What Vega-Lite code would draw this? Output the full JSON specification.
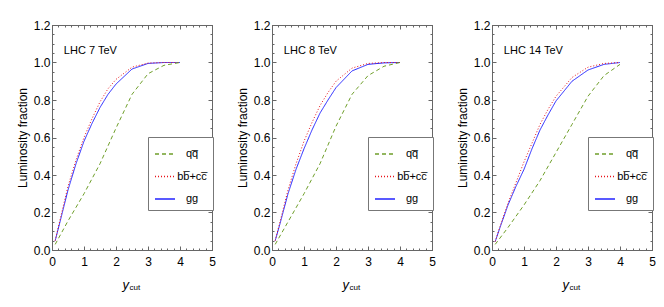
{
  "$schema": "https://vega.github.io/schema/vega-lite/v6.json",
  "padding": {"left": 15, "top": 18, "right": 5, "bottom": 5},
  "background": "white",
  "config": {
    "axis": {"domain": false, "grid": false, "tickColor": "#666", "labelFont": "Liberation Sans", "labelFontSize": 12, "labelColor": "#000", "titleFont": "Liberation Sans", "titleFontSize": 12, "titleFontWeight": "normal", "titleColor": "#000", "labelFlush": false, "labelOverlap": false},
    "view": {"stroke": "#666", "strokeWidth": 1},
    "legend": {"orient": "none", "legendX": 96, "legendY": 112, "title": null, "strokeColor": "#777", "fillColor": "white", "padding": 6, "symbolType": "stroke", "symbolSize": 400, "symbolStrokeWidth": 1.5, "labelFont": "Liberation Sans", "labelFontSize": 11, "labelColor": "#000", "labelAlign": "center", "labelOffset": 16, "rowPadding": 6.5}
  },
  "datasets": {
    "curves": [
      {"e": 7, "ch": "gg", "x": 0.1, "y": 0.05}, {"e": 7, "ch": "gg", "x": 0.25, "y": 0.15}, {"e": 7, "ch": "gg", "x": 0.5, "y": 0.32}, {"e": 7, "ch": "gg", "x": 0.75, "y": 0.46}, {"e": 7, "ch": "gg", "x": 1, "y": 0.58}, {"e": 7, "ch": "gg", "x": 1.25, "y": 0.675}, {"e": 7, "ch": "gg", "x": 1.5, "y": 0.76}, {"e": 7, "ch": "gg", "x": 1.75, "y": 0.83}, {"e": 7, "ch": "gg", "x": 2, "y": 0.885}, {"e": 7, "ch": "gg", "x": 2.5, "y": 0.965}, {"e": 7, "ch": "gg", "x": 3, "y": 0.995}, {"e": 7, "ch": "gg", "x": 3.5, "y": 1}, {"e": 7, "ch": "gg", "x": 4, "y": 1},
      {"e": 7, "ch": "bb\u0305+cc\u0305", "x": 0.1, "y": 0.05}, {"e": 7, "ch": "bb\u0305+cc\u0305", "x": 0.25, "y": 0.16}, {"e": 7, "ch": "bb\u0305+cc\u0305", "x": 0.5, "y": 0.34}, {"e": 7, "ch": "bb\u0305+cc\u0305", "x": 0.75, "y": 0.48}, {"e": 7, "ch": "bb\u0305+cc\u0305", "x": 1, "y": 0.6}, {"e": 7, "ch": "bb\u0305+cc\u0305", "x": 1.25, "y": 0.7}, {"e": 7, "ch": "bb\u0305+cc\u0305", "x": 1.5, "y": 0.79}, {"e": 7, "ch": "bb\u0305+cc\u0305", "x": 1.75, "y": 0.86}, {"e": 7, "ch": "bb\u0305+cc\u0305", "x": 2, "y": 0.91}, {"e": 7, "ch": "bb\u0305+cc\u0305", "x": 2.5, "y": 0.975}, {"e": 7, "ch": "bb\u0305+cc\u0305", "x": 3, "y": 0.997}, {"e": 7, "ch": "bb\u0305+cc\u0305", "x": 3.5, "y": 1}, {"e": 7, "ch": "bb\u0305+cc\u0305", "x": 4, "y": 1},
      {"e": 7, "ch": "qq\u0305", "x": 0.1, "y": 0.03}, {"e": 7, "ch": "qq\u0305", "x": 0.5, "y": 0.155}, {"e": 7, "ch": "qq\u0305", "x": 1, "y": 0.3}, {"e": 7, "ch": "qq\u0305", "x": 1.5, "y": 0.46}, {"e": 7, "ch": "qq\u0305", "x": 2, "y": 0.65}, {"e": 7, "ch": "qq\u0305", "x": 2.5, "y": 0.83}, {"e": 7, "ch": "qq\u0305", "x": 3, "y": 0.94}, {"e": 7, "ch": "qq\u0305", "x": 3.5, "y": 0.985}, {"e": 7, "ch": "qq\u0305", "x": 4, "y": 1},
      {"e": 8, "ch": "gg", "x": 0.1, "y": 0.05}, {"e": 8, "ch": "gg", "x": 0.25, "y": 0.14}, {"e": 8, "ch": "gg", "x": 0.5, "y": 0.3}, {"e": 8, "ch": "gg", "x": 0.75, "y": 0.43}, {"e": 8, "ch": "gg", "x": 1, "y": 0.54}, {"e": 8, "ch": "gg", "x": 1.25, "y": 0.64}, {"e": 8, "ch": "gg", "x": 1.5, "y": 0.73}, {"e": 8, "ch": "gg", "x": 1.75, "y": 0.8}, {"e": 8, "ch": "gg", "x": 2, "y": 0.866}, {"e": 8, "ch": "gg", "x": 2.5, "y": 0.955}, {"e": 8, "ch": "gg", "x": 3, "y": 0.99}, {"e": 8, "ch": "gg", "x": 3.5, "y": 0.998}, {"e": 8, "ch": "gg", "x": 4, "y": 1},
      {"e": 8, "ch": "bb\u0305+cc\u0305", "x": 0.1, "y": 0.05}, {"e": 8, "ch": "bb\u0305+cc\u0305", "x": 0.25, "y": 0.15}, {"e": 8, "ch": "bb\u0305+cc\u0305", "x": 0.5, "y": 0.32}, {"e": 8, "ch": "bb\u0305+cc\u0305", "x": 0.75, "y": 0.46}, {"e": 8, "ch": "bb\u0305+cc\u0305", "x": 1, "y": 0.58}, {"e": 8, "ch": "bb\u0305+cc\u0305", "x": 1.25, "y": 0.68}, {"e": 8, "ch": "bb\u0305+cc\u0305", "x": 1.5, "y": 0.77}, {"e": 8, "ch": "bb\u0305+cc\u0305", "x": 1.75, "y": 0.84}, {"e": 8, "ch": "bb\u0305+cc\u0305", "x": 2, "y": 0.9}, {"e": 8, "ch": "bb\u0305+cc\u0305", "x": 2.5, "y": 0.97}, {"e": 8, "ch": "bb\u0305+cc\u0305", "x": 3, "y": 0.995}, {"e": 8, "ch": "bb\u0305+cc\u0305", "x": 3.5, "y": 1}, {"e": 8, "ch": "bb\u0305+cc\u0305", "x": 4, "y": 1},
      {"e": 8, "ch": "qq\u0305", "x": 0.1, "y": 0.03}, {"e": 8, "ch": "qq\u0305", "x": 0.5, "y": 0.15}, {"e": 8, "ch": "qq\u0305", "x": 1, "y": 0.3}, {"e": 8, "ch": "qq\u0305", "x": 1.5, "y": 0.46}, {"e": 8, "ch": "qq\u0305", "x": 2, "y": 0.66}, {"e": 8, "ch": "qq\u0305", "x": 2.5, "y": 0.83}, {"e": 8, "ch": "qq\u0305", "x": 3, "y": 0.93}, {"e": 8, "ch": "qq\u0305", "x": 3.5, "y": 0.98}, {"e": 8, "ch": "qq\u0305", "x": 4, "y": 1},
      {"e": 14, "ch": "gg", "x": 0.1, "y": 0.045}, {"e": 14, "ch": "gg", "x": 0.25, "y": 0.12}, {"e": 14, "ch": "gg", "x": 0.5, "y": 0.24}, {"e": 14, "ch": "gg", "x": 0.75, "y": 0.34}, {"e": 14, "ch": "gg", "x": 1, "y": 0.43}, {"e": 14, "ch": "gg", "x": 1.25, "y": 0.54}, {"e": 14, "ch": "gg", "x": 1.5, "y": 0.64}, {"e": 14, "ch": "gg", "x": 1.75, "y": 0.72}, {"e": 14, "ch": "gg", "x": 2, "y": 0.795}, {"e": 14, "ch": "gg", "x": 2.5, "y": 0.9}, {"e": 14, "ch": "gg", "x": 3, "y": 0.96}, {"e": 14, "ch": "gg", "x": 3.5, "y": 0.99}, {"e": 14, "ch": "gg", "x": 4, "y": 1},
      {"e": 14, "ch": "bb\u0305+cc\u0305", "x": 0.1, "y": 0.045}, {"e": 14, "ch": "bb\u0305+cc\u0305", "x": 0.25, "y": 0.125}, {"e": 14, "ch": "bb\u0305+cc\u0305", "x": 0.5, "y": 0.25}, {"e": 14, "ch": "bb\u0305+cc\u0305", "x": 0.75, "y": 0.36}, {"e": 14, "ch": "bb\u0305+cc\u0305", "x": 1, "y": 0.47}, {"e": 14, "ch": "bb\u0305+cc\u0305", "x": 1.25, "y": 0.57}, {"e": 14, "ch": "bb\u0305+cc\u0305", "x": 1.5, "y": 0.67}, {"e": 14, "ch": "bb\u0305+cc\u0305", "x": 1.75, "y": 0.75}, {"e": 14, "ch": "bb\u0305+cc\u0305", "x": 2, "y": 0.82}, {"e": 14, "ch": "bb\u0305+cc\u0305", "x": 2.5, "y": 0.92}, {"e": 14, "ch": "bb\u0305+cc\u0305", "x": 3, "y": 0.975}, {"e": 14, "ch": "bb\u0305+cc\u0305", "x": 3.5, "y": 0.995}, {"e": 14, "ch": "bb\u0305+cc\u0305", "x": 4, "y": 1},
      {"e": 14, "ch": "qq\u0305", "x": 0.1, "y": 0.03}, {"e": 14, "ch": "qq\u0305", "x": 0.5, "y": 0.12}, {"e": 14, "ch": "qq\u0305", "x": 1, "y": 0.24}, {"e": 14, "ch": "qq\u0305", "x": 1.5, "y": 0.37}, {"e": 14, "ch": "qq\u0305", "x": 2, "y": 0.52}, {"e": 14, "ch": "qq\u0305", "x": 2.5, "y": 0.67}, {"e": 14, "ch": "qq\u0305", "x": 3, "y": 0.82}, {"e": 14, "ch": "qq\u0305", "x": 3.5, "y": 0.93}, {"e": 14, "ch": "qq\u0305", "x": 4, "y": 0.99}
    ]
  },
  "hconcat": [
    {
      "width": 160, "height": 225,
      "resolve": {"axis": {"x": "independent", "y": "independent"}},
      "layer": [
        {"data": {"name": "curves"}, "transform": [{"filter": "datum.e == 7"}],
         "mark": {"type": "line", "strokeWidth": 1},
         "encoding": {
           "x": {"field": "x", "type": "quantitative", "scale": {"domain": [0, 5], "nice": false, "zero": false},
                 "axis": {"orient": "bottom", "values": [0, 1, 2, 3, 4, 5], "tickSize": -4, "labelPadding": 10, "labelAngle": 0, "title": "y", "titleFontStyle": "italic", "titleFontSize": 13, "titleX": 76.5, "titleY": 38, "titleAlign": "right", "titleBaseline": "alphabetic"}},
           "y": {"field": "y", "type": "quantitative", "scale": {"domain": [0, 1.2], "nice": false, "zero": false},
                 "axis": {"orient": "left", "values": [0, 0.2, 0.4, 0.6, 0.8, 1, 1.2], "format": ".1f", "tickSize": -4, "labelPadding": 6, "title": "Luminosity fraction", "titlePadding": 4}},
           "color": {"field": "ch", "type": "nominal", "scale": {"domain": ["qq\u0305", "bb\u0305+cc\u0305", "gg"], "range": ["#6f9f2a", "#e8141a", "#2323ff"]}, "legend": {}},
           "strokeDash": {"field": "ch", "type": "nominal", "scale": {"domain": ["qq\u0305", "bb\u0305+cc\u0305", "gg"], "range": [[4, 3], [1, 2], [1, 0]]}, "legend": {}}
         }},
        {"data": {"values": [{"x": 0.37, "y": 1.06, "t": "LHC 7 TeV"}]},
         "mark": {"type": "text", "align": "left", "baseline": "middle", "font": "Liberation Sans", "fontSize": 11, "color": "#000"},
         "encoding": {"x": {"field": "x", "type": "quantitative", "axis": null}, "y": {"field": "y", "type": "quantitative", "axis": null}, "text": {"field": "t"}}},
        {"data": {"name": "curves"}, "transform": [{"filter": "datum.e == 7"}],
         "mark": {"type": "point", "opacity": 0},
         "encoding": {
           "x": {"field": "x", "type": "quantitative", "axis": {"orient": "top", "values": [0, 1, 2, 3, 4, 5], "tickSize": -4, "labels": false, "title": "cut", "titleFontSize": 8, "titleX": 77, "titleY": 264, "titleAlign": "left", "titleBaseline": "alphabetic"}},
           "y": {"field": "y", "type": "quantitative", "axis": {"orient": "right", "values": [0, 0.2, 0.4, 0.6, 0.8, 1, 1.2], "tickSize": -4, "labels": false, "title": null}}
         }},
        {"data": {"name": "curves"}, "transform": [{"filter": "datum.e == 7"}],
         "mark": {"type": "point", "opacity": 0},
         "encoding": {
           "x": {"field": "x", "type": "quantitative", "axis": {"orient": "bottom", "values": [0, 0.2, 0.4, 0.6, 0.8, 1, 1.2, 1.4, 1.6, 1.8, 2, 2.2, 2.4, 2.6, 2.8, 3, 3.2, 3.4, 3.6, 3.8, 4, 4.2, 4.4, 4.6, 4.8, 5], "tickSize": -2, "labels": false, "title": null}},
           "y": {"field": "y", "type": "quantitative", "axis": {"orient": "left", "values": [0, 0.05, 0.1, 0.15, 0.2, 0.25, 0.3, 0.35, 0.4, 0.45, 0.5, 0.55, 0.6, 0.65, 0.7, 0.75, 0.8, 0.85, 0.9, 0.95, 1, 1.05, 1.1, 1.15, 1.2], "tickSize": -2, "labels": false, "title": null}}
         }},
        {"data": {"name": "curves"}, "transform": [{"filter": "datum.e == 7"}],
         "mark": {"type": "point", "opacity": 0},
         "encoding": {
           "x": {"field": "x", "type": "quantitative", "axis": {"orient": "top", "values": [0, 0.2, 0.4, 0.6, 0.8, 1, 1.2, 1.4, 1.6, 1.8, 2, 2.2, 2.4, 2.6, 2.8, 3, 3.2, 3.4, 3.6, 3.8, 4, 4.2, 4.4, 4.6, 4.8, 5], "tickSize": -2, "labels": false, "title": null}},
           "y": {"field": "y", "type": "quantitative", "axis": {"orient": "right", "values": [0, 0.05, 0.1, 0.15, 0.2, 0.25, 0.3, 0.35, 0.4, 0.45, 0.5, 0.55, 0.6, 0.65, 0.7, 0.75, 0.8, 0.85, 0.9, 0.95, 1, 1.05, 1.1, 1.15, 1.2], "tickSize": -2, "labels": false, "title": null}}
         }}
      ]
    },
    {
      "width": 160, "height": 225,
      "resolve": {"axis": {"x": "independent", "y": "independent"}},
      "layer": [
        {"data": {"name": "curves"}, "transform": [{"filter": "datum.e == 8"}],
         "mark": {"type": "line", "strokeWidth": 1},
         "encoding": {
           "x": {"field": "x", "type": "quantitative", "scale": {"domain": [0, 5], "nice": false, "zero": false},
                 "axis": {"orient": "bottom", "values": [0, 1, 2, 3, 4, 5], "tickSize": -4, "labelPadding": 10, "labelAngle": 0, "title": "y", "titleFontStyle": "italic", "titleFontSize": 13, "titleX": 76.5, "titleY": 38, "titleAlign": "right", "titleBaseline": "alphabetic"}},
           "y": {"field": "y", "type": "quantitative", "scale": {"domain": [0, 1.2], "nice": false, "zero": false},
                 "axis": {"orient": "left", "values": [0, 0.2, 0.4, 0.6, 0.8, 1, 1.2], "format": ".1f", "tickSize": -4, "labelPadding": 6, "title": "Luminosity fraction", "titlePadding": 4}},
           "color": {"field": "ch", "type": "nominal", "scale": {"domain": ["qq\u0305", "bb\u0305+cc\u0305", "gg"], "range": ["#6f9f2a", "#e8141a", "#2323ff"]}, "legend": {}},
           "strokeDash": {"field": "ch", "type": "nominal", "scale": {"domain": ["qq\u0305", "bb\u0305+cc\u0305", "gg"], "range": [[4, 3], [1, 2], [1, 0]]}, "legend": {}}
         }},
        {"data": {"values": [{"x": 0.37, "y": 1.06, "t": "LHC 8 TeV"}]},
         "mark": {"type": "text", "align": "left", "baseline": "middle", "font": "Liberation Sans", "fontSize": 11, "color": "#000"},
         "encoding": {"x": {"field": "x", "type": "quantitative", "axis": null}, "y": {"field": "y", "type": "quantitative", "axis": null}, "text": {"field": "t"}}},
        {"data": {"name": "curves"}, "transform": [{"filter": "datum.e == 8"}],
         "mark": {"type": "point", "opacity": 0},
         "encoding": {
           "x": {"field": "x", "type": "quantitative", "axis": {"orient": "top", "values": [0, 1, 2, 3, 4, 5], "tickSize": -4, "labels": false, "title": "cut", "titleFontSize": 8, "titleX": 77, "titleY": 264, "titleAlign": "left", "titleBaseline": "alphabetic"}},
           "y": {"field": "y", "type": "quantitative", "axis": {"orient": "right", "values": [0, 0.2, 0.4, 0.6, 0.8, 1, 1.2], "tickSize": -4, "labels": false, "title": null}}
         }},
        {"data": {"name": "curves"}, "transform": [{"filter": "datum.e == 8"}],
         "mark": {"type": "point", "opacity": 0},
         "encoding": {
           "x": {"field": "x", "type": "quantitative", "axis": {"orient": "bottom", "values": [0, 0.2, 0.4, 0.6, 0.8, 1, 1.2, 1.4, 1.6, 1.8, 2, 2.2, 2.4, 2.6, 2.8, 3, 3.2, 3.4, 3.6, 3.8, 4, 4.2, 4.4, 4.6, 4.8, 5], "tickSize": -2, "labels": false, "title": null}},
           "y": {"field": "y", "type": "quantitative", "axis": {"orient": "left", "values": [0, 0.05, 0.1, 0.15, 0.2, 0.25, 0.3, 0.35, 0.4, 0.45, 0.5, 0.55, 0.6, 0.65, 0.7, 0.75, 0.8, 0.85, 0.9, 0.95, 1, 1.05, 1.1, 1.15, 1.2], "tickSize": -2, "labels": false, "title": null}}
         }},
        {"data": {"name": "curves"}, "transform": [{"filter": "datum.e == 8"}],
         "mark": {"type": "point", "opacity": 0},
         "encoding": {
           "x": {"field": "x", "type": "quantitative", "axis": {"orient": "top", "values": [0, 0.2, 0.4, 0.6, 0.8, 1, 1.2, 1.4, 1.6, 1.8, 2, 2.2, 2.4, 2.6, 2.8, 3, 3.2, 3.4, 3.6, 3.8, 4, 4.2, 4.4, 4.6, 4.8, 5], "tickSize": -2, "labels": false, "title": null}},
           "y": {"field": "y", "type": "quantitative", "axis": {"orient": "right", "values": [0, 0.05, 0.1, 0.15, 0.2, 0.25, 0.3, 0.35, 0.4, 0.45, 0.5, 0.55, 0.6, 0.65, 0.7, 0.75, 0.8, 0.85, 0.9, 0.95, 1, 1.05, 1.1, 1.15, 1.2], "tickSize": -2, "labels": false, "title": null}}
         }}
      ]
    },
    {
      "width": 160, "height": 225,
      "resolve": {"axis": {"x": "independent", "y": "independent"}},
      "layer": [
        {"data": {"name": "curves"}, "transform": [{"filter": "datum.e == 14"}],
         "mark": {"type": "line", "strokeWidth": 1},
         "encoding": {
           "x": {"field": "x", "type": "quantitative", "scale": {"domain": [0, 5], "nice": false, "zero": false},
                 "axis": {"orient": "bottom", "values": [0, 1, 2, 3, 4, 5], "tickSize": -4, "labelPadding": 10, "labelAngle": 0, "title": "y", "titleFontStyle": "italic", "titleFontSize": 13, "titleX": 76.5, "titleY": 38, "titleAlign": "right", "titleBaseline": "alphabetic"}},
           "y": {"field": "y", "type": "quantitative", "scale": {"domain": [0, 1.2], "nice": false, "zero": false},
                 "axis": {"orient": "left", "values": [0, 0.2, 0.4, 0.6, 0.8, 1, 1.2], "format": ".1f", "tickSize": -4, "labelPadding": 6, "title": "Luminosity fraction", "titlePadding": 4}},
           "color": {"field": "ch", "type": "nominal", "scale": {"domain": ["qq\u0305", "bb\u0305+cc\u0305", "gg"], "range": ["#6f9f2a", "#e8141a", "#2323ff"]}, "legend": {}},
           "strokeDash": {"field": "ch", "type": "nominal", "scale": {"domain": ["qq\u0305", "bb\u0305+cc\u0305", "gg"], "range": [[4, 3], [1, 2], [1, 0]]}, "legend": {}}
         }},
        {"data": {"values": [{"x": 0.37, "y": 1.06, "t": "LHC 14 TeV"}]},
         "mark": {"type": "text", "align": "left", "baseline": "middle", "font": "Liberation Sans", "fontSize": 11, "color": "#000"},
         "encoding": {"x": {"field": "x", "type": "quantitative", "axis": null}, "y": {"field": "y", "type": "quantitative", "axis": null}, "text": {"field": "t"}}},
        {"data": {"name": "curves"}, "transform": [{"filter": "datum.e == 14"}],
         "mark": {"type": "point", "opacity": 0},
         "encoding": {
           "x": {"field": "x", "type": "quantitative", "axis": {"orient": "top", "values": [0, 1, 2, 3, 4, 5], "tickSize": -4, "labels": false, "title": "cut", "titleFontSize": 8, "titleX": 77, "titleY": 264, "titleAlign": "left", "titleBaseline": "alphabetic"}},
           "y": {"field": "y", "type": "quantitative", "axis": {"orient": "right", "values": [0, 0.2, 0.4, 0.6, 0.8, 1, 1.2], "tickSize": -4, "labels": false, "title": null}}
         }},
        {"data": {"name": "curves"}, "transform": [{"filter": "datum.e == 14"}],
         "mark": {"type": "point", "opacity": 0},
         "encoding": {
           "x": {"field": "x", "type": "quantitative", "axis": {"orient": "bottom", "values": [0, 0.2, 0.4, 0.6, 0.8, 1, 1.2, 1.4, 1.6, 1.8, 2, 2.2, 2.4, 2.6, 2.8, 3, 3.2, 3.4, 3.6, 3.8, 4, 4.2, 4.4, 4.6, 4.8, 5], "tickSize": -2, "labels": false, "title": null}},
           "y": {"field": "y", "type": "quantitative", "axis": {"orient": "left", "values": [0, 0.05, 0.1, 0.15, 0.2, 0.25, 0.3, 0.35, 0.4, 0.45, 0.5, 0.55, 0.6, 0.65, 0.7, 0.75, 0.8, 0.85, 0.9, 0.95, 1, 1.05, 1.1, 1.15, 1.2], "tickSize": -2, "labels": false, "title": null}}
         }},
        {"data": {"name": "curves"}, "transform": [{"filter": "datum.e == 14"}],
         "mark": {"type": "point", "opacity": 0},
         "encoding": {
           "x": {"field": "x", "type": "quantitative", "axis": {"orient": "top", "values": [0, 0.2, 0.4, 0.6, 0.8, 1, 1.2, 1.4, 1.6, 1.8, 2, 2.2, 2.4, 2.6, 2.8, 3, 3.2, 3.4, 3.6, 3.8, 4, 4.2, 4.4, 4.6, 4.8, 5], "tickSize": -2, "labels": false, "title": null}},
           "y": {"field": "y", "type": "quantitative", "axis": {"orient": "right", "values": [0, 0.05, 0.1, 0.15, 0.2, 0.25, 0.3, 0.35, 0.4, 0.45, 0.5, 0.55, 0.6, 0.65, 0.7, 0.75, 0.8, 0.85, 0.9, 0.95, 1, 1.05, 1.1, 1.15, 1.2], "tickSize": -2, "labels": false, "title": null}}
         }}
      ]
    }
  ],
  "spacing": 60,
  "bounds": "flush",
  "resolve": {"scale": {"color": "independent", "strokeDash": "independent"}, "legend": {"color": "independent", "strokeDash": "independent"}}
}
